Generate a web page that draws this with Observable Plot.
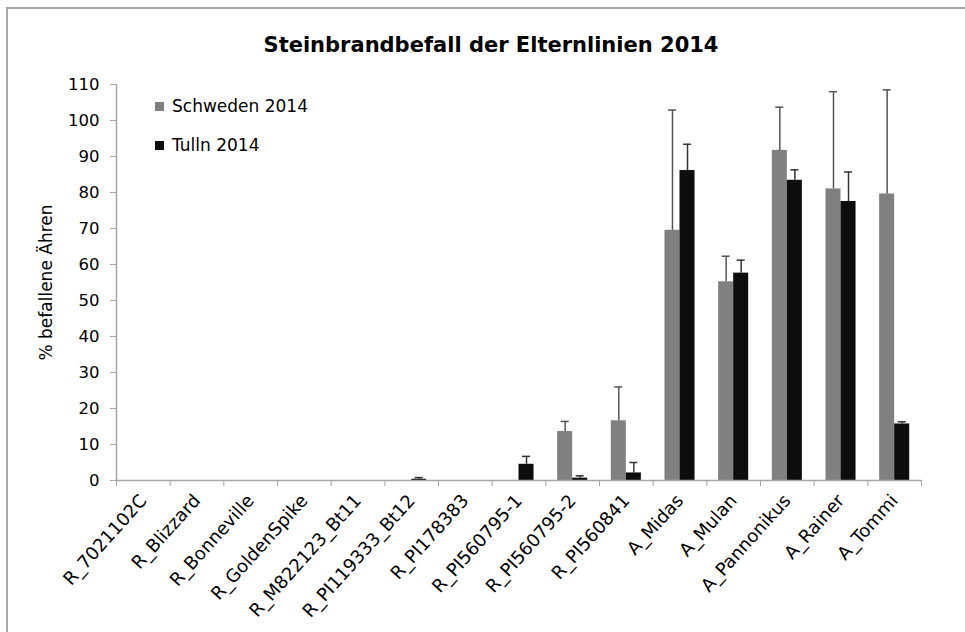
<!DOCTYPE html>
<html>
<head>
<meta charset="utf-8">
<script src="https://cdn.jsdelivr.net/npm/d3@7"></script>
<script src="https://cdn.jsdelivr.net/npm/@observablehq/plot@0.6"></script>
<style>
  body { margin: 0; background: #fff; }
  #wrap { position: relative; width: 965px; height: 632px; overflow: hidden; font-family: "DejaVu Sans", sans-serif; background: #fff; }
  #border { position: absolute; left: 6px; top: 7px; width: 1000px; height: 700px; border-top: 2px solid #a6a6a6; border-left: 2px solid #a6a6a6; pointer-events: none; }
  #title { position: absolute; left: 0; width: 982px; top: 32px; text-align: center; font-weight: bold; font-size: 21px; line-height: 26px; color: #000; }
  .leg { position: absolute; left: 155px; height: 20px; display: flex; align-items: center; font-size: 17px; color: #000; }
  .leg span.sw { display: inline-block; width: 9px; height: 9px; margin-right: 8px; }
  #chart { position: absolute; left: 0; top: 0; }
</style>
</head>
<body>
<div id="wrap">
  <div id="chart"></div>
  <div id="border"></div>
  <div id="title"></div>
  <div id="legend"></div>
</div>
<script>
// ---- data ----
const titleText = "Steinbrandbefall der Elternlinien 2014";
const yLabel = "% befallene Ähren";
const categories = ["R_7021102C", "R_Blizzard", "R_Bonneville", "R_GoldenSpike", "R_M822123_Bt11",
  "R_PI119333_Bt12", "R_PI178383", "R_PI560795-1", "R_PI560795-2", "R_PI560841",
  "A_Midas", "A_Mulan", "A_Pannonikus", "A_Rainer", "A_Tommi"];
const seriesNames = ["Schweden 2014", "Tulln 2014"];
const schweden    = [0, 0, 0, 0, 0, 0, 0, 0, 13.6, 16.6, 69.5, 55.2, 91.7, 81.0, 79.6];
const schwedenErr = [0, 0, 0, 0, 0, 0, 0, 0, 2.8, 9.4, 33.4, 7.1, 12.0, 27.0, 28.9];
const tulln       = [0, 0, 0, 0, 0, 0.35, 0, 4.5, 0.65, 2.1, 86.1, 57.6, 83.4, 77.5, 15.7];
const tullnErr    = [0, 0, 0, 0, 0, 0.45, 0, 2.2, 0.65, 2.9, 7.3, 3.6, 2.9, 8.2, 0.6];
const yTicks = [0, 10, 20, 30, 40, 50, 60, 70, 80, 90, 100, 110];

// ---- styles ----
const fills = ["#808080", "#0d0d0d"];
const errStrokes = ["#555555", "#333333"];
const barW = 0.28;   // bar width in category units
const capW = 0.075;  // half cap width in category units

document.getElementById("title").textContent = titleText;
const legend = document.getElementById("legend");
seriesNames.forEach((name, k) => {
  const d = document.createElement("div");
  d.className = "leg";
  d.style.top = (96 + k * 39) + "px";
  d.innerHTML = `<span class="sw" style="background:${fills[k]}"></span><span></span>`;
  d.lastChild.textContent = name;
  legend.appendChild(d);
});

const seriesVals = [schweden, tulln];
const seriesErrs = [schwedenErr, tullnErr];
const rows = [];
seriesNames.forEach((s, k) => {
  categories.forEach((c, i) => {
    const x1 = k === 0 ? i + 0.5 - barW : i + 0.5;
    rows.push({cat: c, i, k, series: s, value: seriesVals[k][i], err: seriesErrs[k][i],
      x1, x2: x1 + barW, xc: x1 + barW / 2});
  });
});
const bars = rows.filter(d => d.value > 0);
const errs = rows.filter(d => d.err > 0);

const boundaries = d3.range(0, categories.length + 1);
const centers = categories.map((c, i) => i + 0.5);

const errMarks = [0, 1].flatMap(k => {
  const data = errs.filter(d => d.k === k);
  return [
    Plot.ruleX(data, {x: "xc", y1: "value", y2: d => d.value + d.err, stroke: errStrokes[k], strokeWidth: 1.5}),
    Plot.ruleY(data, {y: d => d.value + d.err, x1: d => d.xc - capW, x2: d => d.xc + capW, stroke: errStrokes[k], strokeWidth: 1.5})
  ];
});

const chart = Plot.plot({
  width: 965,
  height: 632,
  marginLeft: 116,
  marginRight: 44,
  marginTop: 84,
  marginBottom: 152,
  style: {fontFamily: "DejaVu Sans, sans-serif", background: "transparent", color: "#000"},
  x: {type: "linear", domain: [0, categories.length], axis: null},
  y: {domain: [0, 110], axis: null},
  color: {domain: seriesNames, range: fills},
  marks: [
    Plot.rectY(bars, {x1: "x1", x2: "x2", y1: 0, y2: "value", fill: "series"}),
    ...errMarks,
    Plot.ruleY([0], {stroke: "#a6a6a6", strokeWidth: 1.5}),
    Plot.ruleX([0], {stroke: "#a6a6a6", strokeWidth: 1.5}),
    Plot.axisY({ticks: yTicks, tickSize: 6, tickPadding: 11, fontSize: 16.5, label: null, stroke: "#a6a6a6", fill: "#000"}),
    Plot.axisX({ticks: boundaries, tickSize: 6, tickFormat: () => "", label: null, stroke: "#a6a6a6"}),
    Plot.axisX({ticks: centers, tickSize: 0, tickPadding: 17, tickRotate: -48, fontSize: 18, label: null, fill: "#000",
      tickFormat: v => categories[Math.floor(v)]}),
    Plot.text([yLabel], {frameAnchor: "left", textAnchor: "middle", text: d => d, rotate: -90, dx: -70, fontSize: 17, fill: "#000"})
  ]
});
document.getElementById("chart").appendChild(chart);
</script>
</body>
</html>
